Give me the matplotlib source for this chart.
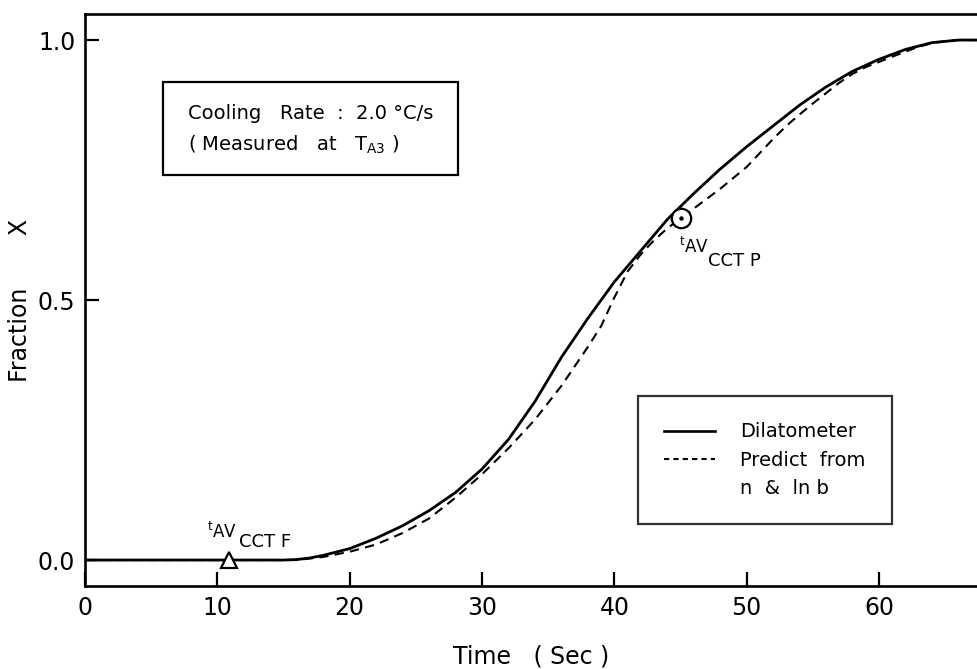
import matplotlib.pyplot as plt
from matplotlib.lines import Line2D
from matplotlib.patches import Rectangle

plt.rcParams['font.family'] = ['DejaVu Sans']
plt.rcParams['mathtext.default'] = 'regular'

# dilatometer curve
time_dil = [0, 10, 15, 16, 17, 18, 20, 22, 24, 26, 28, 30, 32, 34, 36, 38, 40,
            42, 44, 46, 48, 50, 52, 54, 56, 58, 60, 62, 64, 66, 67.4]
frac_dil = [0, 0, 0, 0.001, 0.004, 0.009, 0.022, 0.042, 0.066, 0.095, 0.13,
            0.175, 0.232, 0.305, 0.39, 0.465, 0.535, 0.595, 0.655, 0.705, 0.752,
            0.795, 0.835, 0.875, 0.91, 0.94, 0.963, 0.982, 0.995, 1.0, 1.0]

# predicted from n & ln b
time_pred = [0, 10, 16, 18, 20, 22, 24, 26, 28, 30, 32, 34, 36, 38, 39, 40, 41,
             42, 43, 44, 45, 46, 47, 48, 49, 50, 51, 52, 53, 54, 55, 56, 57, 58,
             59, 60, 61, 62, 63, 64, 65, 66, 67.4]
frac_pred = [0, 0, 0, 0.006, 0.016, 0.03, 0.052, 0.08, 0.12, 0.165, 0.215, 0.27,
             0.335, 0.41, 0.45, 0.505, 0.555, 0.588, 0.615, 0.638, 0.657, 0.676,
             0.695, 0.714, 0.735, 0.756, 0.783, 0.81, 0.835, 0.857, 0.878, 0.898,
             0.918, 0.935, 0.948, 0.958, 0.968, 0.978, 0.987, 0.994, 0.998, 1.0, 1.0]

# marked points
t_cct_f, x_cct_f = 10.9, 0.0
t_cct_p, x_cct_p = 45.0, 0.657

xticks = [0, 10, 20, 30, 40, 50, 60]
yticks = [0.0, 0.5, 1.0]

fig = plt.figure(figsize=(9.77, 6.69), dpi=100)
ax = fig.add_axes([0.087, 0.124, 0.913, 0.855])

ax.plot(time_dil, frac_dil, color='black', lw=2.0, solid_capstyle='butt')
ax.plot(time_pred, frac_pred, color='black', lw=1.5, dashes=(4.5, 3))

ax.plot([t_cct_f], [x_cct_f], marker='^', ms=11, mfc='white', mec='black',
        mew=1.6, ls='none', zorder=5)
ax.plot([t_cct_p], [x_cct_p], marker='o', ms=14, mfc='white', mec='black',
        mew=1.6, ls='none', zorder=5)
ax.plot([t_cct_p], [x_cct_p], marker='o', ms=2.2, color='black', ls='none', zorder=6)

# point labels
ax.text(9.25, 0.042, '$^{t}$AV', fontsize=12, va='baseline', ha='left')
ax.text(11.6, 0.026, 'CCT F', fontsize=13, va='baseline', ha='left')
ax.text(44.85, 0.59, '$^{t}$AV', fontsize=12, va='baseline', ha='left')
ax.text(47.1, 0.566, 'CCT P', fontsize=13, va='baseline', ha='left')

# condition box
ax.add_patch(Rectangle((0.0874, 0.7185), 0.331, 0.1626, transform=ax.transAxes,
                       fill=False, ec='black', lw=1.6))
ax.text(0.1155, 0.827, 'Cooling   Rate  :  2.0 °C/s', transform=ax.transAxes,
        fontsize=14, va='center', ha='left')
ax.text(0.1155, 0.771, '( Measured   at   T$_{A3}$ )', transform=ax.transAxes,
        fontsize=14, va='center', ha='left')

handles = [Line2D([], [], color='black', lw=1.9),
           Line2D([], [], color='black', lw=1.5, dashes=(2.5, 2)),
           Line2D([], [], color='none')]
leg = ax.legend(handles, ['Dilatometer', 'Predict  from', 'n  &  ln b'],
                loc='upper left', bbox_to_anchor=(0.62, 0.332), fontsize=14,
                frameon=True, fancybox=False, handlelength=2.6,
                handletextpad=1.3, borderpad=1.35, labelspacing=0.47,
                borderaxespad=0)
leg.get_frame().set_edgecolor('black')
leg.get_frame().set_linewidth(1.6)

ax.set_xlim(0, 67.4)
ax.set_ylim(-0.05, 1.05)
ax.set_xticks(xticks)
ax.set_yticks(yticks)
ax.set_yticklabels(['0.0', '0.5', '1.0'])
ax.tick_params(direction='in', length=10, width=1.6, labelsize=17)
ax.tick_params(axis='x', pad=7)
ax.tick_params(axis='y', pad=7)

ax.spines['right'].set_visible(False)
for s in ['left', 'bottom', 'top']:
    ax.spines[s].set_linewidth(1.9)

ax.set_xlabel('Time   ( Sec )', fontsize=17, labelpad=18)
ax.set_ylabel('Fraction       X', fontsize=17)
ax.yaxis.set_label_coords(-0.059, 0.5)

fig.savefig('out.png', dpi=100)
